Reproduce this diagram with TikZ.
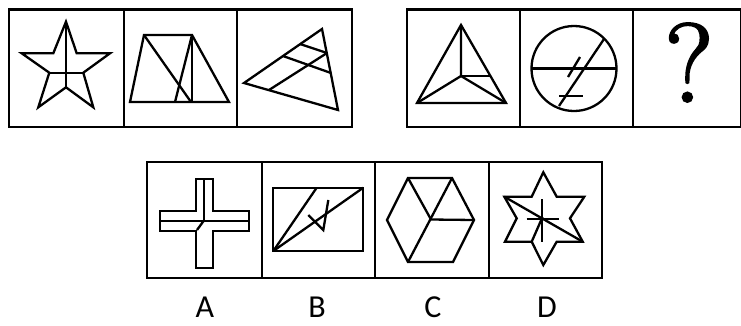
\documentclass[tikz,border=0pt]{standalone}
\usepackage{fontspec}
\newfontfamily\labelfont{Carlito}
\newfontfamily\qfont[FakeBold=2]{Latin Modern Roman}
\begin{document}
\begin{tikzpicture}[x=1pt,y=-1pt,
  frame/.style={line width=2.6pt,line join=miter},
  fig/.style={line width=2.3pt,line join=miter},
  lab/.style={font=\labelfont\fontsize{32}{32}\selectfont,inner sep=0pt}]
\useasboundingbox (0,0) rectangle (741,325);
% top-left frame
\draw[frame] (9,9.5) rectangle (352,127);
\draw[frame] (124,9.5) -- (124,127);
\draw[frame] (237,9.5) -- (237,127);
% top-right frame
\draw[frame] (407,9.5) rectangle (741,127);
\draw[frame] (520,9.5) -- (520,127);
\draw[frame] (633,9.5) -- (633,127);
% bottom frame
\draw[frame] (147,162) rectangle (602,278);
\draw[frame] (262,162) -- (262,278);
\draw[frame] (375,162) -- (375,278);
\draw[frame] (489,162) -- (489,278);

% 1: star
\draw[fig] (66,21.7) -- (53.3,53.3) -- (21.7,53.3) -- (49.3,72.7) -- (38.3,107.3) -- (66,87.3)
  -- (93.3,107.3) -- (83.3,72.7) -- (110,53.3) -- (76.7,53.3) -- cycle;
\draw[fig] (66,21.7) -- (66,87.3);
\draw[fig] (49.3,72.7) -- (83.3,72.7);

% 2: trapezoid
\draw[fig] (144,35) -- (192,35) -- (229,102) -- (130,102) -- cycle;
\draw[fig] (144,35) -- (191,102);
\draw[fig] (192,35) -- (192,102);
\draw[fig] (192,35) -- (175,102);

% 3: triangle
\draw[fig] (322,29) -- (338,110) -- (244,83) -- cycle;
\draw[fig] (300,44) -- (327,53);
\draw[fig] (283,56) -- (331,73);
\draw[fig] (327,53) -- (269,90);

% 4: triangle with Y
\draw[fig] (461,25) -- (506,103) -- (417,103) -- cycle;
\draw[fig] (461,25) -- (461,76) -- (417,103);
\draw[fig] (461,76) -- (506,103);
\draw[fig] (461,76) -- (490.4,76);

% 5: circle
\draw[fig] (574,68.5) circle[radius=42.5];
\draw[fig] (531.5,68.5) -- (616.5,68.5);
\draw[fig] (604,39) -- (559,106);
\draw[fig] (580,57) -- (568,77);
\draw[fig] (559,96) -- (583,96);

% 6: question mark
\node[inner sep=0pt] (q) at (689,62.5) {\qfont\fontsize{112}{112}\selectfont ?};

% A: cross
\draw[fig] (195.7,210.7) -- (195.7,179.3) -- (213.3,179.3) -- (213.3,210.7) -- (249.3,210.7)
  -- (249.3,231) -- (213.3,231) -- (213.3,268.3) -- (195.7,268.3) -- (195.7,231)
  -- (160,231) -- (160,210.7) -- cycle;
\draw[fig] (204.3,179.3) -- (204.3,220.7);
\draw[fig] (160,220.7) -- (249.3,220.7);
\draw[fig] (204.3,220) -- (197,230);

% B: rectangle
\draw[fig] (273.3,187.7) rectangle (363.3,251);
\draw[fig] (273.3,251) -- (363.3,187.7);
\draw[fig] (273.3,251) -- (316.7,187.7);
\draw[fig] (308.3,215) -- (323.3,230) -- (328.3,200);

% C: hexagon
\draw[fig] (387,220) -- (408,178) -- (452,178) -- (474,220) -- (453,262) -- (408,262) -- cycle;
\draw[fig] (452,178) -- (408,262);
\draw[fig] (408,178) -- (431,219.5) -- (474,220);

% D: hexagram
\draw[fig] (543.3,172.3) -- (556.7,196.7) -- (584.3,196.7) -- (570,218.3) -- (582.7,241.7)
  -- (556.7,241.7) -- (543.3,265) -- (531.7,241.7) -- (505,241.7) -- (516.7,218.3)
  -- (504.3,196.7) -- (531.7,196.7) -- cycle;
\draw[fig] (504.3,196.7) -- (582.7,241.7);
\draw[fig] (526.7,219) -- (559.3,219);
\draw[fig] (541.7,199.3) -- (541.7,242.3);
\draw[fig] (542.5,217) -- (531.7,241.7);

% labels
\node[lab] (la) at (205,307.5) {A};
\node[lab] (lb) at (317,307.5) {B};
\node[lab] (lc) at (433,307.5) {C};
\node[lab] (ld) at (547,307.5) {D};
\end{tikzpicture}
\end{document}
